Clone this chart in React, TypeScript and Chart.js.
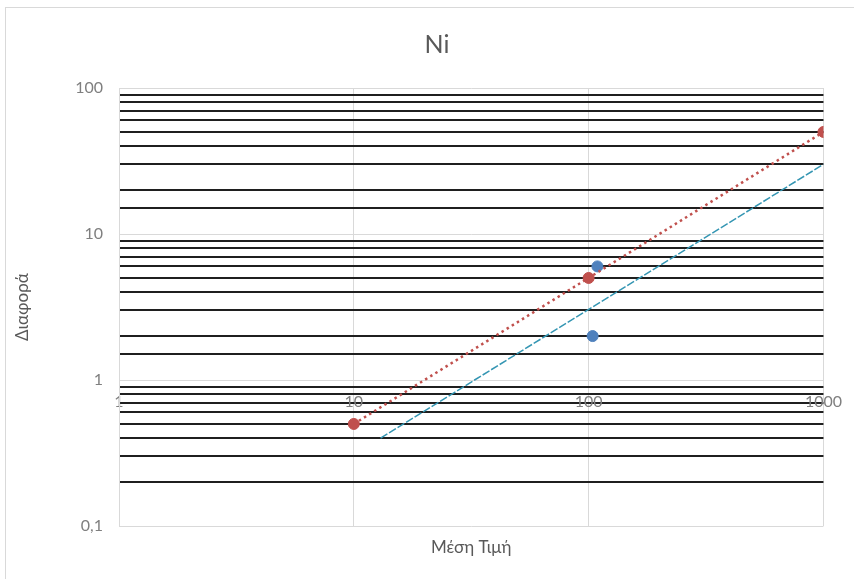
import React, { useEffect, useRef } from "react";
import { Chart, registerables } from "chart.js";

Chart.register(...registerables);

// ---- data ----
const chartTitle = "Ni";
const xTitle = "Μέση Τιμή";
const yTitle = "Διαφορά";

const redX = [10, 100, 1000];
const redY = [0.5, 5, 50];
const blueX = [109, 104];
const blueY = [6, 2];

const redTrendX = [10, 1000];
const redTrendY = [0.5, 50];
const blueTrendX = [13, 1000];
const blueTrendY = [0.4, 30];

const xTickValues = [1, 10, 100, 1000];
const xTickLabels = ["1", "10", "100", "1000"];
const yTickValues = [0.1, 1, 10, 100];
const yTickLabels = ["0,1", "1", "10", "100"];

const FONT = "Lato, 'Liberation Sans', sans-serif";

const isDecade = (v: number) => {
  const l = Math.log10(v);
  return Math.abs(l - Math.round(l)) < 1e-6;
};
const labelFor = (v: number, vals: number[], labels: string[]) => {
  for (let i = 0; i < vals.length; i++) {
    if (Math.abs(Math.log10(v) - Math.log10(vals[i])) < 1e-6) return labels[i];
  }
  return "";
};

const pts = (xs: number[], ys: number[]) => xs.map((x, i) => ({ x, y: ys[i] }));

const frame = {
  id: "frame",
  beforeDraw(chart: any) {
    const { ctx, width, height } = chart;
    ctx.save();
    ctx.fillStyle = "#ffffff";
    ctx.fillRect(0, 0, width, height);
    ctx.strokeStyle = "#d9d9d9";
    ctx.lineWidth = 1;
    ctx.strokeRect(5.5, 7.5, width + 10, height + 10);
    ctx.restore();
  },
};

export default function App() {
  const ref = useRef<HTMLCanvasElement | null>(null);
  useEffect(() => {
    if (!ref.current) return;
    const chart = new Chart(ref.current, {
      type: "scatter",
      data: {
        datasets: [
          {
            label: "trend red",
            data: pts(redTrendX, redTrendY),
            showLine: true,
            borderColor: "#C0504D",
            borderWidth: 2.5,
            borderDash: [2.5, 3.5],
            pointRadius: 0,
            fill: false,
          },
          {
            label: "trend blue",
            data: pts(blueTrendX, blueTrendY),
            showLine: true,
            borderColor: "#3596B3",
            borderWidth: 1.5,
            borderDash: [8, 2],
            pointRadius: 0,
            fill: false,
          },
          {
            label: "red",
            data: pts(redX, redY),
            backgroundColor: "#C0504D",
            borderColor: "#C0504D",
            pointRadius: 5.5,
          },
          {
            label: "blue",
            data: pts(blueX, blueY),
            backgroundColor: "#4F81BD",
            borderColor: "#4F81BD",
            pointRadius: 5.5,
          },
        ],
      },
      options: {
        animation: false,
        responsive: false,
        devicePixelRatio: 1,
        layout: { padding: { left: 50, right: 30, top: 0, bottom: 0 } },
        plugins: {
          legend: { display: false },
          tooltip: { enabled: false },
          title: {
            display: true,
            text: chartTitle,
            color: "#595959",
            font: { family: FONT, size: 25, weight: "normal" },
            padding: { top: 30, bottom: 28 },
          },
        },
        scales: {
          x: {
            type: "logarithmic",
            min: 1,
            max: 1000,
            position: { y: 1 } as any,
            border: { display: false },
            grid: {
              drawTicks: false,
              color: (c: any) => (c.tick && isDecade(c.tick.value) ? "#d9d9d9" : "rgba(0,0,0,0)"),
              lineWidth: 1,
            },
            ticks: {
              autoSkip: false,
              maxRotation: 0,
              padding: 12,
              color: "#7f7f7f",
              font: { family: FONT, size: 16 },
              callback: (v: any) => labelFor(Number(v), xTickValues, xTickLabels),
            },
            afterFit: (s: any) => {
              s.height = 0;
            },
          },
          xb: {
            type: "logarithmic",
            min: 1,
            max: 1000,
            position: "bottom",
            border: { display: false },
            grid: { display: false },
            ticks: { display: false },
            title: {
              display: true,
              text: xTitle,
              color: "#595959",
              font: { family: FONT, size: 17 },
              padding: { top: 0, bottom: 21 },
            },
            afterFit: (s: any) => {
              s.height = 53;
            },
          },
          y: {
            type: "logarithmic",
            min: 0.1,
            max: 100,
            position: "left",
            border: { display: true, color: "#d9d9d9" },
            grid: {
              drawTicks: false,
              color: (c: any) => (c.tick && isDecade(c.tick.value) ? "#d9d9d9" : "#1f1f1f"),
              lineWidth: (c: any) => (c.tick && isDecade(c.tick.value) ? 1 : 2),
            },
            ticks: {
              autoSkip: false,
              padding: 16,
              color: "#7f7f7f",
              font: { family: FONT, size: 16 },
              callback: (v: any) => labelFor(Number(v), yTickValues, yTickLabels),
            },
            title: {
              display: true,
              text: yTitle,
              color: "#595959",
              font: { family: FONT, size: 17 },
              padding: { top: -38, bottom: 0 },
            },
            afterFit: (s: any) => {
              s.width = 69;
            },
          },
        },
      },
      plugins: [frame],
    } as any);
    return () => chart.destroy();
  }, []);
  return (
    <div style={{ position: "absolute", left: 0, top: 0, width: 854, height: 579 }}>
      <canvas ref={ref} width={854} height={579} style={{ display: "block" }} />
    </div>
  );
}
